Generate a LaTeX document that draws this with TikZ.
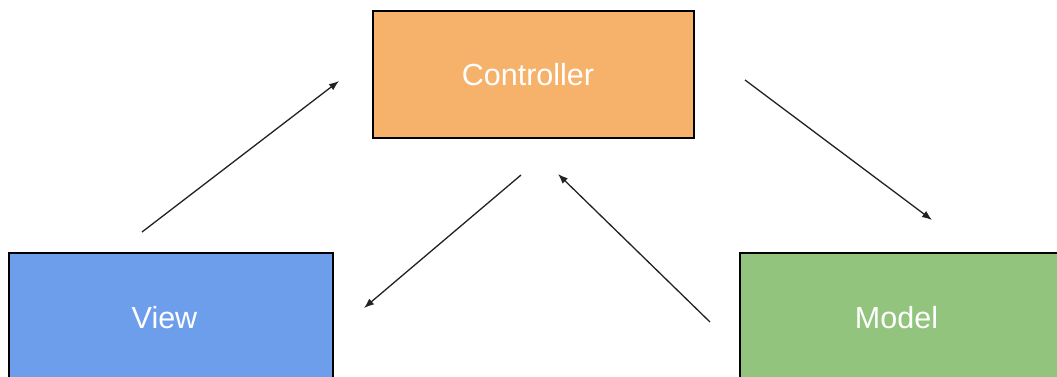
\documentclass[tikz,border=0pt]{standalone}
\usepackage{fontspec}
\setmainfont{Liberation Sans}
\usetikzlibrary{arrows.meta}
\definecolor{ctrlfill}{HTML}{F6B26B}
\definecolor{viewfill}{HTML}{6D9EEB}
\definecolor{modelfill}{HTML}{93C47D}
\definecolor{linegray}{HTML}{222222}
\tikzset{
  box/.style={draw=black, line width=1.3pt, rectangle, inner sep=0pt},
  boxtext/.style={text=white, inner sep=0pt, font=\fontsize{30.5}{36}\selectfont},
  flow/.style={draw=linegray, line width=1.3pt, -{Latex[length=10pt,width=7.5pt]}}
}
\begin{document}
\begin{tikzpicture}[x=1pt,y=-1pt]
  \useasboundingbox (0,0) rectangle (1057,376);
  \clip (0,0) rectangle (1057,376);
  \fill[white] (0,0) rectangle (1057,376);

  % the three boxes
  \node[box, fill=ctrlfill, minimum width=321pt, minimum height=127pt] (ctrl) at (533.5,74.5) {};
  \node[box, fill=viewfill, minimum width=324pt, minimum height=127pt] (view) at (171,316.5) {};
  \node[box, fill=modelfill, minimum width=324pt, minimum height=127pt] (model) at (902,316.5) {};

  % box captions
  \node[boxtext] (ctrltext) at (528,75) {Controller};
  \node[boxtext] (viewtext) at (164.5,318) {View};
  \node[boxtext] (modeltext) at (896.5,318) {Model};

  % arrow end points
  \coordinate (v2cA) at (142,232);
  \coordinate (v2cB) at (339,81);
  \coordinate (c2vA) at (521,175);
  \coordinate (c2vB) at (364,308);
  \coordinate (m2cA) at (710,322);
  \coordinate (m2cB) at (558,174);
  \coordinate (c2mA) at (745,80);
  \coordinate (c2mB) at (932,220);

  % arrows
  \draw[flow] (v2cA) -- (v2cB);
  \draw[flow] (c2vA) -- (c2vB);
  \draw[flow] (m2cA) -- (m2cB);
  \draw[flow] (c2mA) -- (c2mB);
\end{tikzpicture}
\end{document}
